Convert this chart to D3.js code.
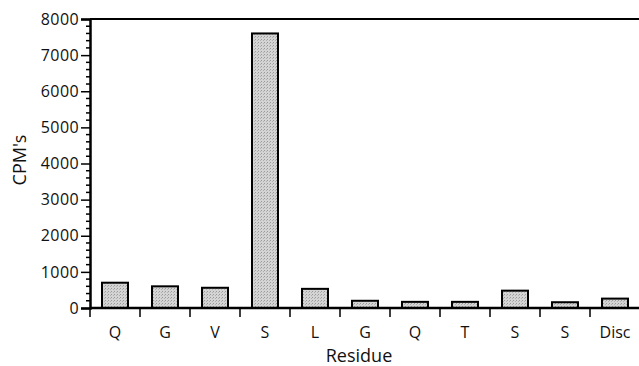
<!DOCTYPE html>
<html>
<head>
<meta charset="utf-8">
<script src="https://cdn.jsdelivr.net/npm/d3@7"></script>
<style>
  body { margin: 0; background: #fff; }
  text { font-family: "Open Sans", Lato, sans-serif; fill: #111; }
</style>
</head>
<body>
<div id="chart-container"></div>
<script>
((() => {
  const residues = ["Q", "G", "V", "S", "L", "G", "Q", "T", "S", "S", "Disc"];
  const cpms = [700, 600, 560, 7600, 530, 200, 170, 170, 480, 160, 260];
  const yTicks = [0, 1000, 2000, 3000, 4000, 5000, 6000, 7000, 8000];

  function chart(){
    const width = 639;
    const height = 366;
    const marginTop = 19;
    const marginRight = -1;
    const marginBottom = 58;
    const marginLeft = 90;

    // unique keys so repeated residues get their own band
    const keys = residues.map((r, i) => i);

    const x = d3.scaleBand()
      .domain(keys)
      .range([marginLeft, width - marginRight])
      .paddingInner(0.48)
      .paddingOuter(0.24);

    const y = d3.scaleLinear()
      .domain([0, 8000])
      .range([height - marginBottom, marginTop]);

    const svg = d3.create("svg")
      .attr("width", width)
      .attr("height", height)
      .attr("viewBox", [0, 0, width, height]);

    // stipple pattern for bars
    const pat = svg.append("defs").append("pattern")
      .attr("id", "stip")
      .attr("width", 3).attr("height", 3)
      .attr("patternUnits", "userSpaceOnUse");
    pat.append("rect").attr("width", 3).attr("height", 3).attr("fill", "#d4d4d4");
    pat.append("rect").attr("width", 1).attr("height", 1).attr("fill", "#9a9a9a");
    pat.append("rect").attr("x", 2).attr("y", 1).attr("width", 1).attr("height", 1).attr("fill", "#b0b0b0");

    // frame (top and right)
    svg.append("path")
      .attr("d", `M${marginLeft},${y(8000)}H${width - marginRight}V${y(0)}`)
      .attr("fill", "none")
      .attr("stroke", "#000")
      .attr("stroke-width", 2);

    svg.append("g")
      .selectAll("rect")
      .data(cpms)
      .join("rect")
      .attr("x", (d, i) => x(i))
      .attr("y", d => y(d))
      .attr("width", x.bandwidth())
      .attr("height", d => y(0) - y(d))
      .attr("fill", "url(#stip)")
      .attr("stroke", "#000")
      .attr("stroke-width", 2);

    // y minor ticks
    const yAxis = svg.append("g")
      .attr("transform", `translate(${marginLeft},0)`);
    yAxis.selectAll("line.minor")
      .data(d3.range(0, 8001, 200).filter(v => v % 1000 !== 0))
      .join("line")
      .attr("class", "minor")
      .attr("x1", -4).attr("x2", 1)
      .attr("y1", d => y(d)).attr("y2", d => y(d))
      .attr("stroke", "#000")
      .attr("stroke-width", 1.5);

    // y-axis
    yAxis.call(d3.axisLeft(y).tickValues(yTicks).tickSize(9).tickPadding(2).tickFormat(d3.format("d")))
      .call(g => g.select(".domain").attr("stroke-width", 2.5))
      .call(g => g.selectAll(".tick line").attr("stroke-width", 1.5))
      .selectAll("text")
      .style("font-size", "16px")
      .style("letter-spacing", "0.4px");

    // x-axis: ticks at band boundaries
    const xg = svg.append("g")
      .attr("transform", `translate(0,${y(0)})`);
    xg.append("line")
      .attr("x1", marginLeft).attr("x2", width)
      .attr("stroke", "#000").attr("stroke-width", 2.5);
    const step = x.step();
    xg.selectAll("line.bnd")
      .data(keys)
      .join("line")
      .attr("class", "bnd")
      .attr("x1", d => x(d) - x.paddingOuter() * step)
      .attr("x2", d => x(d) - x.paddingOuter() * step)
      .attr("y1", 0).attr("y2", 9)
      .attr("stroke", "#000").attr("stroke-width", 1.5);
    xg.selectAll("text")
      .data(keys)
      .join("text")
      .attr("x", d => x(d) + x.bandwidth() / 2)
      .attr("y", 30)
      .attr("text-anchor", "middle")
      .style("font-size", "16px")
      .text(d => residues[d]);

    svg.append("text")
      .attr("x", 359)
      .attr("y", 362)
      .attr("text-anchor", "middle")
      .style("font-size", "18px")
      .text("Residue");

    svg.append("text")
      .attr("transform", `translate(26,160) rotate(-90)`)
      .attr("text-anchor", "middle")
      .style("font-size", "18px")
      .text("CPM's");

    d3.select("#chart-container").append(() => svg.node());
  }
  chart();
})());
</script>
</body>
</html>
